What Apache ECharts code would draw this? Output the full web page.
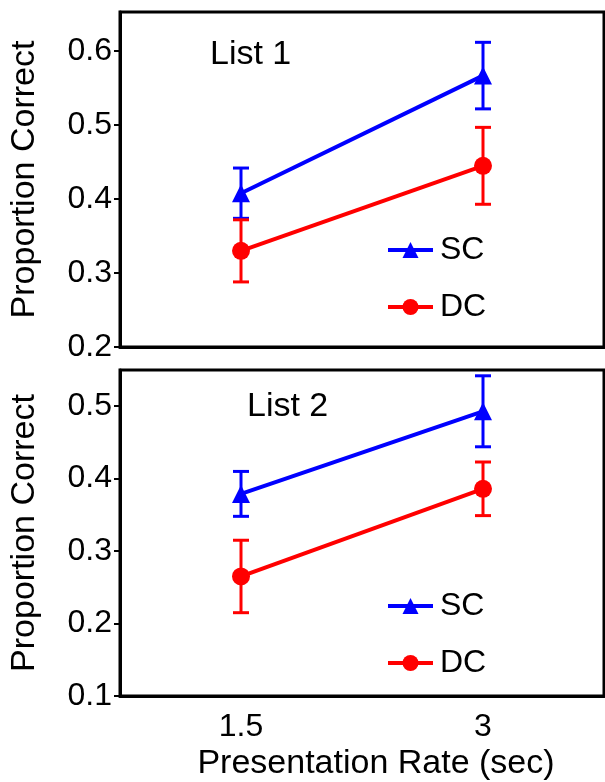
<!DOCTYPE html>
<html>
<head>
<meta charset="utf-8">
<script src="https://cdn.jsdelivr.net/npm/echarts@6/dist/echarts.min.js"></script>
<style>
  html, body { margin: 0; padding: 0; background: #fff; }
  #main { width: 605px; height: 782px; }
</style>
</head>
<body>
<div id="main"></div>
<script>
// presentation rate categories
const categories = ['1.5', '3'];

// List 1
const sc1 = [0.408, 0.567];
const sc1Err = [0.034, 0.045];
const dc1 = [0.330, 0.445];
const dc1Err = [0.042, 0.052];

// List 2
const sc2 = [0.379, 0.493];
const sc2Err = [0.031, 0.049];
const dc2 = [0.265, 0.386];
const dc2Err = [0.050, 0.037];

const yTicks1 = [0.2, 0.3, 0.4, 0.5, 0.6];
const yTicks2 = [0.1, 0.2, 0.3, 0.4, 0.5];

const FONT = "'Liberation Sans', Arial, sans-serif";
const BLUE = '#0000ff';
const RED = '#ff0000';

const chart = echarts.init(document.getElementById('main'), null, { renderer: 'canvas' });

// error bars as custom series: [x, low, high]
function errorSeries(values, errs, color, gridIdx) {
  return {
    type: 'custom',
    xAxisIndex: gridIdx,
    yAxisIndex: gridIdx,
    silent: true,
    z: 1,
    encode: { x: 0, y: [1, 2] },
    data: values.map((v, i) => [i, v - errs[i], v + errs[i]]),
    renderItem: function (params, api) {
      const x = api.value(0);
      const lo = api.coord([x, api.value(1)]);
      const hi = api.coord([x, api.value(2)]);
      const w = 8;
      const style = { stroke: color, lineWidth: 3 };
      return {
        type: 'group',
        children: [
          { type: 'line', shape: { x1: lo[0], y1: lo[1], x2: hi[0], y2: hi[1] }, style: style },
          { type: 'line', shape: { x1: lo[0] - w, y1: lo[1], x2: lo[0] + w, y2: lo[1] }, style: style },
          { type: 'line', shape: { x1: hi[0] - w, y1: hi[1], x2: hi[0] + w, y2: hi[1] }, style: style }
        ]
      };
    }
  };
}

function lineSeries(name, values, color, symbol, size, gridIdx) {
  return {
    name: name,
    type: 'line',
    xAxisIndex: gridIdx,
    yAxisIndex: gridIdx,
    data: values,
    symbol: symbol,
    symbolSize: size,
    z: 3,
    lineStyle: { color: color, width: 4 },
    itemStyle: { color: color },
    emphasis: { disabled: true }
  };
}

function xAxis(gridIdx, showLabels) {
  return {
    type: 'category',
    gridIndex: gridIdx,
    data: categories,
    boundaryGap: true,
    axisLine: { lineStyle: { color: '#000', width: 3 } },
    axisTick: { alignWithLabel: true, inside: true, length: 8, lineStyle: { color: '#000', width: 2 } },
    axisLabel: { show: showLabels, color: '#000', fontFamily: FONT, fontSize: 32, margin: 15 },
    splitLine: { show: false },
    name: showLabels ? 'Presentation Rate (sec)' : '',
    nameLocation: 'middle',
    nameGap: 51,
    nameTextStyle: { color: '#000', fontFamily: FONT, fontSize: 34, padding: [0, 0, 0, 28] }
  };
}

function yAxis(gridIdx, min, max, ticks) {
  return {
    type: 'value',
    gridIndex: gridIdx,
    min: min,
    max: max,
    axisLine: { show: true, lineStyle: { color: '#000', width: 3 } },
    axisTick: { show: true, length: 6, customValues: ticks, lineStyle: { color: '#000', width: 2 } },
    axisLabel: {
      customValues: ticks,
      color: '#000', fontFamily: FONT, fontSize: 32, margin: 8,
      formatter: v => v.toFixed(1)
    },
    splitLine: { show: false },
    name: 'Proportion Correct',
    nameLocation: 'middle',
    nameGap: 78,
    nameTextStyle: { color: '#000', fontFamily: FONT, fontSize: 34 }
  };
}

function legend(top) {
  return {
    orient: 'vertical',
    left: 386,
    top: top,
    padding: 0,
    itemWidth: 45,
    itemHeight: 20,
    itemGap: 25,
    selectedMode: false,
    data: ['SC', 'DC'],
    lineStyle: { width: 4 },
    textStyle: { color: '#000', fontFamily: FONT, fontSize: 32, padding: [0, 0, 0, 2] }
  };
}

const option = {
  backgroundColor: '#fff',
  animation: false,
  title: [
    { text: 'List 1', left: 205, top: 33, textStyle: { color: '#000', fontFamily: FONT, fontSize: 34, fontWeight: 'normal' } },
    { text: 'List 2', left: 242, top: 385, textStyle: { color: '#000', fontFamily: FONT, fontSize: 34, fontWeight: 'normal' } }
  ],
  legend: [legend(234), legend(590)],
  grid: [
    { left: 120, top: 12, width: 484, height: 335, show: true, borderColor: '#000', borderWidth: 3 },
    { left: 120, top: 370, width: 484, height: 330, show: true, borderColor: '#000', borderWidth: 3 }
  ],
  xAxis: [xAxis(0, false), xAxis(1, true)],
  yAxis: [yAxis(0, 0.2, 0.653, yTicks1), yAxis(1, 0.1, 0.55, yTicks2)],
  series: [
    errorSeries(sc1, sc1Err, BLUE, 0),
    errorSeries(dc1, dc1Err, RED, 0),
    lineSeries('SC', sc1, BLUE, 'triangle', 18, 0),
    lineSeries('DC', dc1, RED, 'circle', 18, 0),
    errorSeries(sc2, sc2Err, BLUE, 1),
    errorSeries(dc2, dc2Err, RED, 1),
    lineSeries('SC', sc2, BLUE, 'triangle', 18, 1),
    lineSeries('DC', dc2, RED, 'circle', 18, 1)
  ]
};

chart.setOption(option);
</script>
</body>
</html>
